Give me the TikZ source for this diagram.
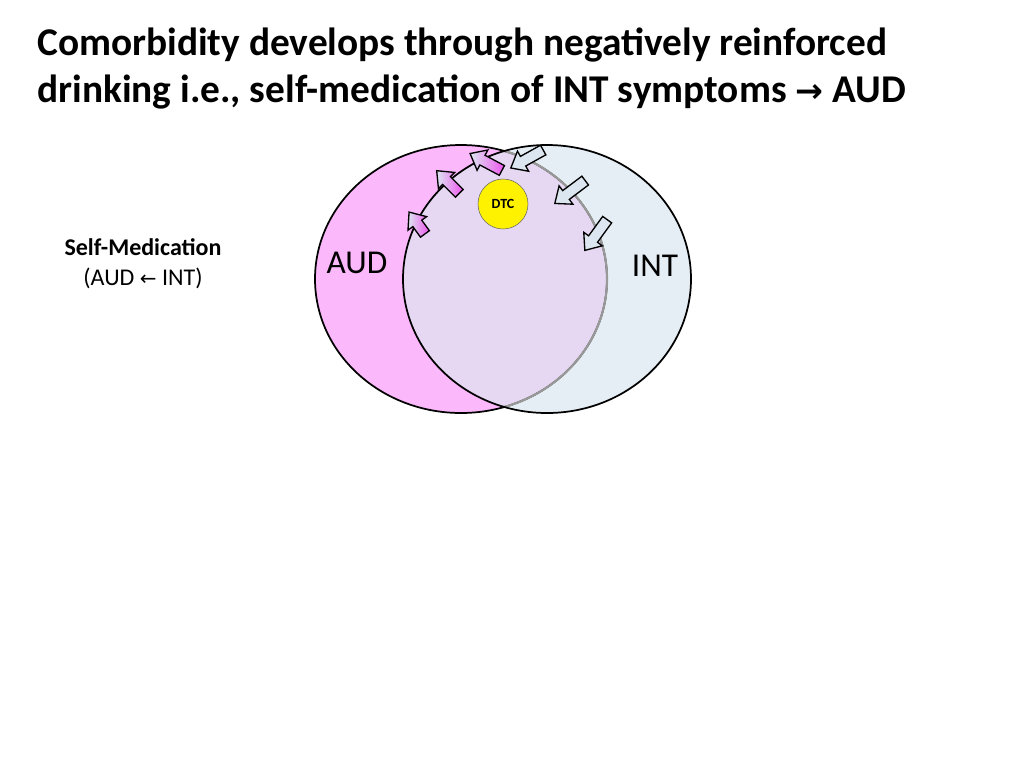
\documentclass[tikz,border=0pt]{standalone}
\usepackage{fontspec}
\setmainfont{Carlito}
\newfontfamily\symf{DejaVu Sans}
\definecolor{pinkf}{HTML}{FBB8FB}
\definecolor{bluef}{HTML}{E6EEF5}
\definecolor{purpf}{HTML}{E6D8F2}
\definecolor{arrb}{HTML}{DCE6F0}
\definecolor{arrm}{HTML}{EE55EE}
\tikzset{
 rarr/.style={draw=black, line width=1pt, line join=miter, fill=arrb},
 larr/.style={draw=black, line width=1pt, line join=miter, left color=arrb, right color=arrm},
}
\newcommand\blockarr[4]{% center, math angle, length, style
 \begin{scope}[shift={#1}, rotate=-#2]
 \draw[#4] (-#3/2,-5.5) -- (#3/2-14,-5.5) -- (#3/2-14,-11.5) -- (#3/2,0) -- (#3/2-14,11.5) -- (#3/2-14,5.5) -- (-#3/2,5.5) -- cycle;
 \end{scope}}
\begin{document}
\begin{tikzpicture}[x=0.75pt,y=-0.75pt]
\useasboundingbox (0,0) rectangle (1024,768);
\node[anchor=base west, inner sep=0pt, font=\fontsize{29.5}{34}\selectfont\bfseries] (title) at (37,55) {Comorbidity develops through negatively reinforced};
\node[anchor=base west, inner sep=0pt, font=\fontsize{29.5}{34}\selectfont\bfseries] (title2) at (37,102) {drinking i.e., self-medication of INT symptoms {\symf\bfseries\fontsize{25}{30}\selectfont →} AUD};
% circles
\fill[pinkf] (461,279) ellipse [x radius=146, y radius=134];
\fill[bluef] (547,279) ellipse [x radius=144, y radius=134];
\begin{scope}
\clip (461,279) ellipse [x radius=146, y radius=134];
\fill[purpf] (547,279) ellipse [x radius=144, y radius=134];
\end{scope}
\draw[line width=1.3pt] (461,279) ellipse [x radius=146, y radius=134];
\draw[line width=1.3pt] (547,279) ellipse [x radius=144, y radius=134];
\begin{scope}
\clip (547,279) ellipse [x radius=143, y radius=133];
\draw[line width=1.6pt, gray!80] (461,279) ellipse [x radius=146, y radius=134];
\end{scope}
\node[font=\fontsize{25}{28}\selectfont] (aud) at (357,263) {AUD};
\node[font=\fontsize{25}{28}\selectfont] (int) at (655,266) {INT};
\node[circle, draw=black!60, fill=yellow, minimum size=37.5pt, inner sep=0pt, font=\fontsize{10.5}{12}\selectfont\bfseries] (dtc) at (503,204) {DTC};
% arrows
\blockarr{(596,235)}{126}{38}{rarr}
\blockarr{(570,192)}{143}{38}{rarr}
\blockarr{(527,159)}{151}{37}{rarr}
\blockarr{(486,162)}{208}{36}{larr}
\blockarr{(448,182)}{225}{32}{larr}
\blockarr{(417,223)}{234}{27}{larr}
\node[font=\fontsize{18}{21}\selectfont\bfseries] (sm) at (143,247) {Self-Medication};
\node[font=\fontsize{18}{21}\selectfont] (sm2) at (143,278) {(AUD {\symf\fontsize{15}{18}\selectfont ←} INT)};
\end{tikzpicture}
\end{document}
